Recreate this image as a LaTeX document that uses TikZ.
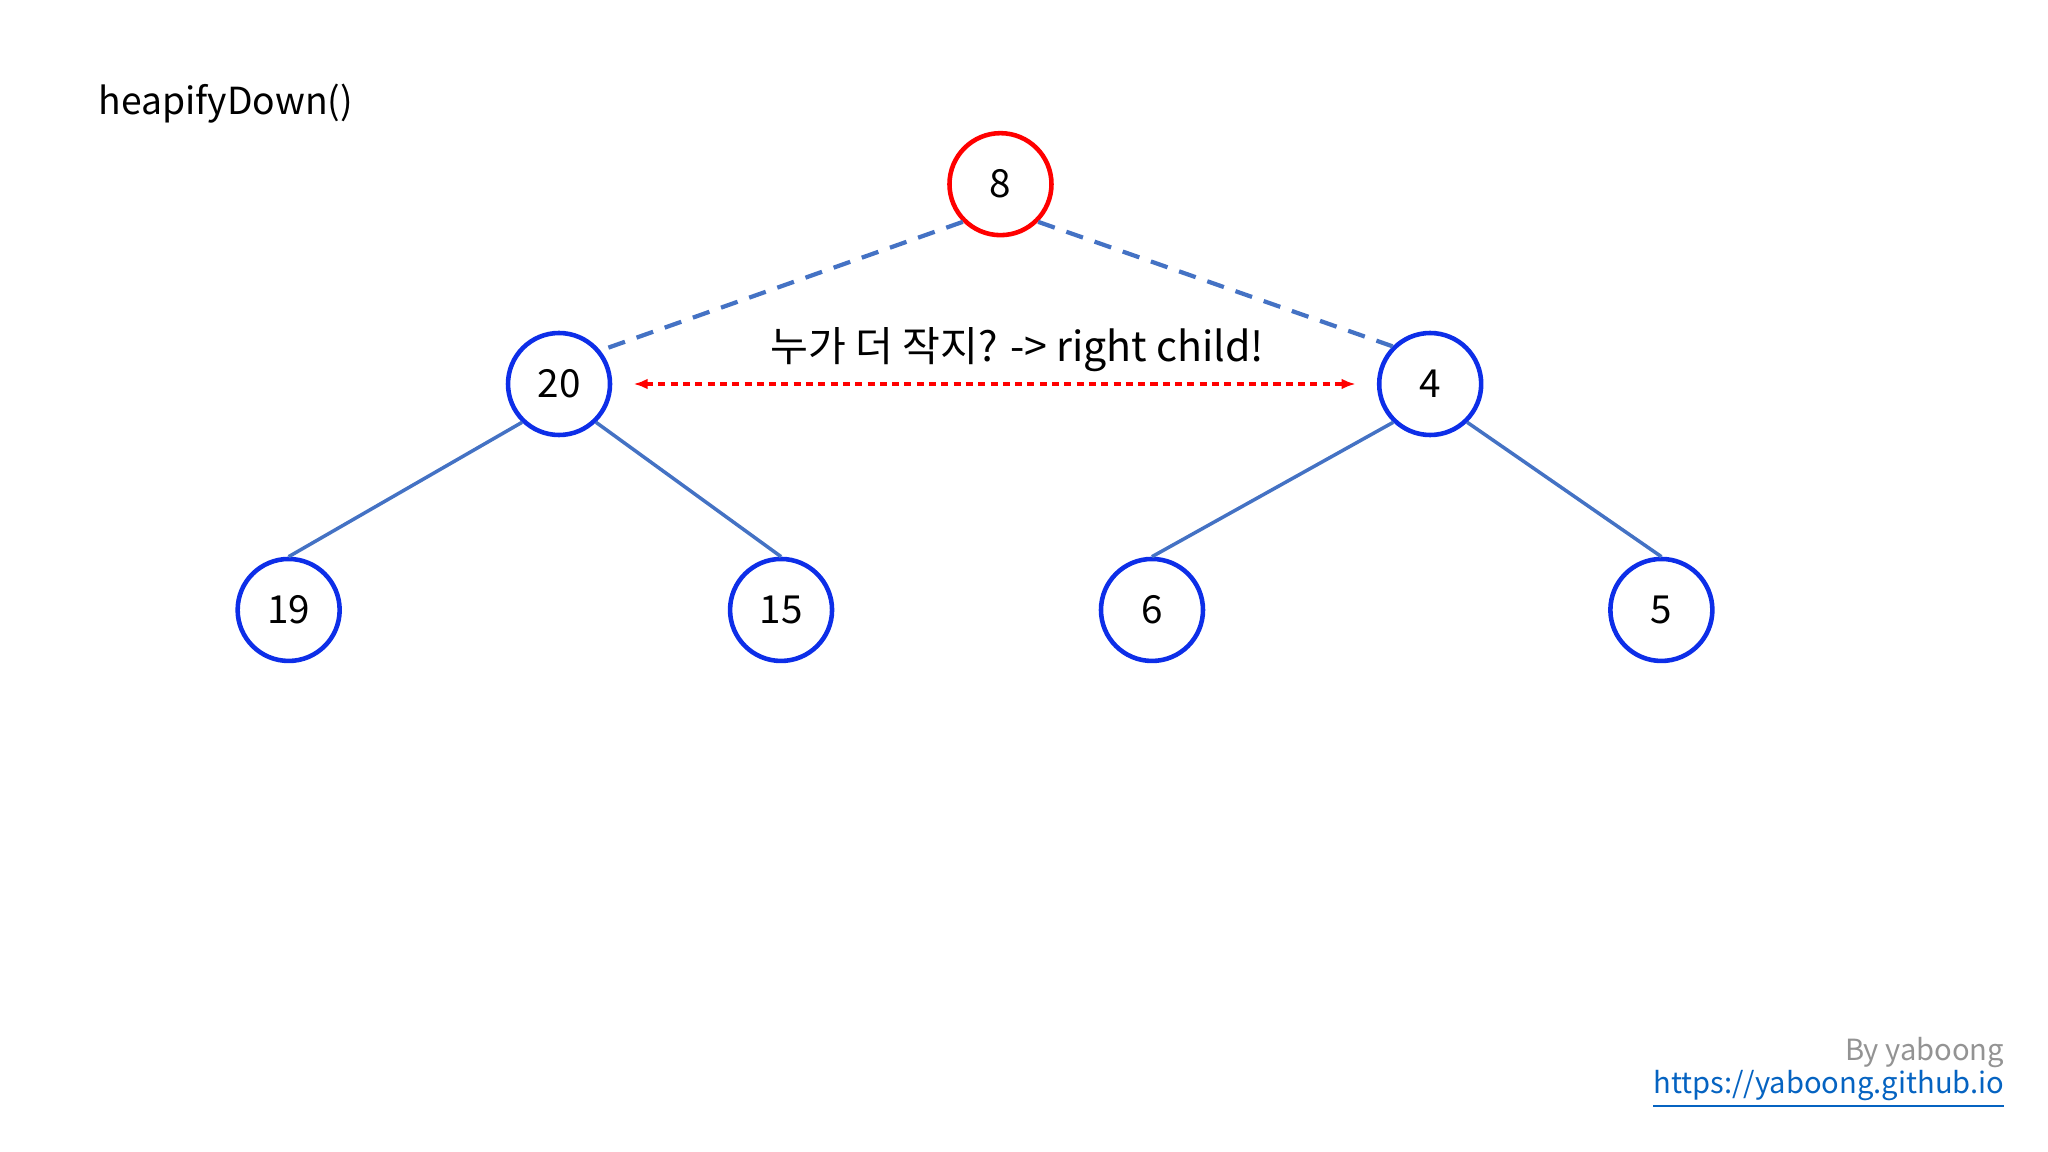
\documentclass[tikz,border=0pt]{standalone}
\usepackage{fontspec}
\setmainfont{Noto Sans CJK KR}
\usetikzlibrary{arrows.meta}
\definecolor{nodeblue}{HTML}{0D2EE8}
\definecolor{edgeblue}{HTML}{4472C4}
\definecolor{linkblue}{HTML}{0563C1}
\begin{document}
\begin{tikzpicture}[x=0.013061cm,y=-0.013061cm,
  hnode/.style={circle,draw=nodeblue,line width=1.3pt,minimum size=1.02cm,inner sep=0pt,font=\fontsize{11}{13}\selectfont},
  rnode/.style={hnode,draw=red},
  edge/.style={draw=edgeblue,line width=1pt},
  dedge/.style={edge,line width=1.2pt,dash pattern=on 5pt off 3.5pt}]
\useasboundingbox (0,0) rectangle (1568,882);
\node[anchor=west,inner sep=0pt,font=\fontsize{10.6}{13}\selectfont] (title) at (75,79) {heapifyDown()};
\node[rnode] (n8) at (766,141) {8};
\node[hnode] (n20) at (428,294) {20};
\node[hnode] (n4) at (1095,294) {4};
\node[hnode] (n19) at (221,467) {19};
\node[hnode] (n15) at (598,467) {15};
\node[hnode] (n6) at (882,467) {6};
\node[hnode] (n5) at (1272,467) {5};
\draw[dedge] (n8.-135) -- (n20.39);
\draw[dedge] (n8.-45) -- (n4.135);
\draw[edge] (n20.-134) -- (n19.north);
\draw[edge] (n20.-46) -- (n15.north);
\draw[edge] (n4.-134) -- (n6.north);
\draw[edge] (n4.-46) -- (n5.north);
\coordinate (a1) at (485,294);
\coordinate (a2) at (1038,294);
\draw[red,line width=0.9pt,dash pattern=on 2pt off 1.5pt,{Latex[length=4pt]}-{Latex[length=4pt]}] (a1) -- (a2);
\node[font=\fontsize{11.7}{13}\selectfont] (lab) at (779,268) {누가 더 작지? -> right child!};
\node[anchor=east,inner sep=0pt,text=gray!85,font=\fontsize{8.3}{10}\selectfont] (by) at (1535,806) {By yaboong};
\node[anchor=east,inner sep=0pt,text=linkblue,font=\fontsize{8.3}{10}\selectfont] (url) at (1535,834) {\underline{https://yaboong.github.io}};
\end{tikzpicture}
\end{document}
